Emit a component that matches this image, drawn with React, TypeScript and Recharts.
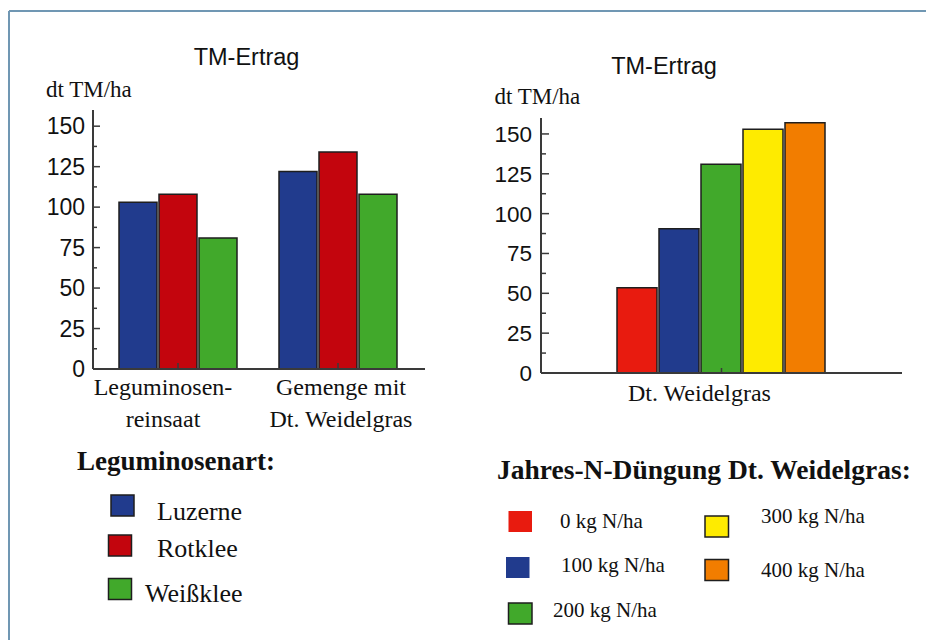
import React from 'react';
import { BarChart, Bar, XAxis, YAxis } from 'recharts';

// left chart: Leguminosenart
const leftCategories = ['Leguminosen-\nreinsaat', 'Gemenge mit\nDt. Weidelgras'];
const leftSeriesNames = ['Luzerne', 'Rotklee', 'Weißklee'];
const luzerne = [103, 122];
const rotklee = [108, 134];
const weissklee = [81, 108];

// right chart: Jahres-N-Düngung
const rightCategories = ['Dt. Weidelgras'];
const rightSeriesNames = ['0 kg N/ha', '100 kg N/ha', '200 kg N/ha', '300 kg N/ha', '400 kg N/ha'];
const n0 = [53.5];
const n100 = [90.5];
const n200 = [131];
const n300 = [153];
const n400 = [157];

const yTicks = [0, 12.5, 25, 37.5, 50, 62.5, 75, 87.5, 100, 112.5, 125, 137.5, 150];

const leftData = leftCategories.map((name, i) => ({
  name,
  s0: luzerne[i],
  s1: rotklee[i],
  s2: weissklee[i],
}));

const rightData = rightCategories.map((name, i) => ({
  name,
  s0: n0[i],
  s1: n100[i],
  s2: n200[i],
  s3: n300[i],
  s4: n400[i],
}));

const leftColors = ['#213b8d', '#c3050d', '#41a92b'];
const rightColors = ['#e81b0f', '#213b8d', '#41a92b', '#feeb00', '#f27d00'];

const SANS = '"Liberation Sans", Arial, sans-serif';
const SERIF = '"Liberation Serif", "Times New Roman", serif';
const AXIS = '#3a3a3a';
const BAR_STROKE = '#1e1e1e';
const FRAME = '#7097b3';

// legend placement (page coordinates)
const leftLegendLayout = [
  { sx: 111, sy: 495, tx: 157, ty: 520 },
  { sx: 108.5, sy: 535, tx: 157, ty: 557 },
  { sx: 108.5, sy: 578.5, tx: 145, ty: 602 },
];
const rightLegendLayout = [
  { sx: 508.5, sy: 511, tx: 560, ty: 528, border: false },
  { sx: 506, sy: 557, tx: 561, ty: 572, border: false },
  { sx: 508.5, sy: 603, tx: 553, ty: 617, border: true },
  { sx: 705, sy: 516, tx: 761, ty: 523, border: true },
  { sx: 705, sy: 559.5, tx: 761, ty: 577, border: true },
];

function YTick(props: any) {
  const { x, y, payload, gap, major, minor, fontSize } = props;
  const v = payload.value;
  const isMajor = v % 25 === 0;
  return (
    <g>
      <line x1={x} x2={x + (isMajor ? major : minor)} y1={y} y2={y} stroke={AXIS} strokeWidth={1.5} />
      {isMajor && (
        <text x={x - gap} y={y} dy="0.355em" textAnchor="end" fontFamily={SANS} fontSize={fontSize} fill="#111">
          {v}
        </text>
      )}
    </g>
  );
}

function XTick(props: any) {
  const { x, y, payload, index, shifts, tickLen, first, lineGap } = props;
  const lines = String(payload.value).split('\n');
  const dx = shifts[index] ?? 0;
  return (
    <g>
      <line x1={x} x2={x} y1={y - tickLen} y2={y} stroke={AXIS} strokeWidth={1.5} />
      {lines.map((ln, i) => (
        <text key={i} x={x + dx} y={y + first + i * lineGap} textAnchor="middle" fontFamily={SERIF} fontSize={24} fill="#111">
          {ln}
        </text>
      ))}
    </g>
  );
}

const axisLine = { stroke: AXIS, strokeWidth: 2 };

export default function App() {
  return (
    <div style={{ position: 'relative', width: 926, height: 640, overflow: 'hidden', background: '#fff' }}>
      <style>{'body{margin:0;overflow:hidden;}'}</style>

      <div style={{ position: 'absolute', left: 0, top: 0 }}>
        <BarChart
          width={460}
          height={440}
          data={leftData}
          margin={{ top: 110, right: 35, bottom: 41, left: 0 }}
          barCategoryGap={21}
          barGap={2}
        >
          <XAxis
            dataKey="name"
            height={30}
            padding={{ left: 5, right: 7 }}
            axisLine={axisLine}
            tickLine={false}
            tickSize={0}
            tickMargin={0}
            interval={0}
            tick={(p: any) => <XTick {...p} shifts={[-15, 3]} tickLen={6} first={26} lineGap={32} />}
          />
          <YAxis
            type="number"
            domain={[0, 160]}
            ticks={yTicks}
            width={93}
            axisLine={axisLine}
            tickLine={false}
            tickSize={0}
            tickMargin={0}
            interval={0}
            tick={(p: any) => <YTick {...p} gap={8} major={7} minor={4} fontSize={23} />}
          />
          {leftSeriesNames.map((n, i) => (
            <Bar
              key={n}
              dataKey={'s' + i}
              name={n}
              fill={leftColors[i]}
              stroke={BAR_STROKE}
              strokeWidth={1.5}
              isAnimationActive={false}
            />
          ))}
        </BarChart>
      </div>

      <div style={{ position: 'absolute', left: 460, top: 0 }}>
        <BarChart
          width={466}
          height={440}
          data={rightData}
          margin={{ top: 118, right: 24, bottom: 37, left: 0 }}
          barCategoryGap={76}
          barGap={2}
        >
          <XAxis
            dataKey="name"
            height={30}
            axisLine={axisLine}
            tickLine={false}
            tickSize={0}
            tickMargin={0}
            interval={0}
            tick={(p: any) => <XTick {...p} shifts={[-22]} tickLen={5} first={28} lineGap={32} />}
          />
          <YAxis
            type="number"
            domain={[0, 160]}
            ticks={yTicks}
            width={81}
            axisLine={axisLine}
            tickLine={false}
            tickSize={0}
            tickMargin={0}
            interval={0}
            tick={(p: any) => <YTick {...p} gap={9} major={8} minor={5} fontSize={22.5} />}
          />
          {rightSeriesNames.map((n, i) => (
            <Bar
              key={n}
              dataKey={'s' + i}
              name={n}
              fill={rightColors[i]}
              stroke={BAR_STROKE}
              strokeWidth={1.5}
              isAnimationActive={false}
            />
          ))}
        </BarChart>
      </div>

      <svg width={926} height={640} style={{ position: 'absolute', left: 0, top: 0, pointerEvents: 'none' }}>
        <line x1={9} y1={11} x2={926} y2={11} stroke={FRAME} strokeWidth={2} />
        <line x1={9} y1={11} x2={9} y2={640} stroke={FRAME} strokeWidth={2} />

        <text x={246.5} y={65} textAnchor="middle" fontFamily={SANS} fontSize={23.5} fill="#111">TM-Ertrag</text>
        <text x={46} y={96.5} fontFamily={SERIF} fontSize={23} fill="#111">dt TM/ha</text>
        <text x={664} y={73.5} textAnchor="middle" fontFamily={SANS} fontSize={23.5} fill="#111">TM-Ertrag</text>
        <text x={494.5} y={103.5} fontFamily={SERIF} fontSize={23} fill="#111">dt TM/ha</text>

        <text x={77} y={470} fontFamily={SERIF} fontWeight="bold" fontSize={27} fill="#111">Leguminosenart:</text>
        {leftSeriesNames.map((n, i) => {
          const l = leftLegendLayout[i];
          return (
            <g key={n}>
              <rect x={l.sx} y={l.sy} width={23} height={21} fill={leftColors[i]} stroke={BAR_STROKE} strokeWidth={1.5} />
              <text x={l.tx} y={l.ty} fontFamily={SERIF} fontSize={26} fill="#111">{n}</text>
            </g>
          );
        })}

        <text x={497} y={478.5} fontFamily={SERIF} fontWeight="bold" fontSize={27.5} fill="#111">
          Jahres-N-Düngung Dt. Weidelgras:
        </text>
        {rightSeriesNames.map((n, i) => {
          const l = rightLegendLayout[i];
          return (
            <g key={n}>
              <rect
                x={l.sx}
                y={l.sy}
                width={23.5}
                height={21}
                fill={rightColors[i]}
                stroke={l.border ? BAR_STROKE : 'none'}
                strokeWidth={1.5}
              />
              <text x={l.tx} y={l.ty} fontFamily={SERIF} fontSize={21} fill="#111">{n}</text>
            </g>
          );
        })}
      </svg>
    </div>
  );
}
